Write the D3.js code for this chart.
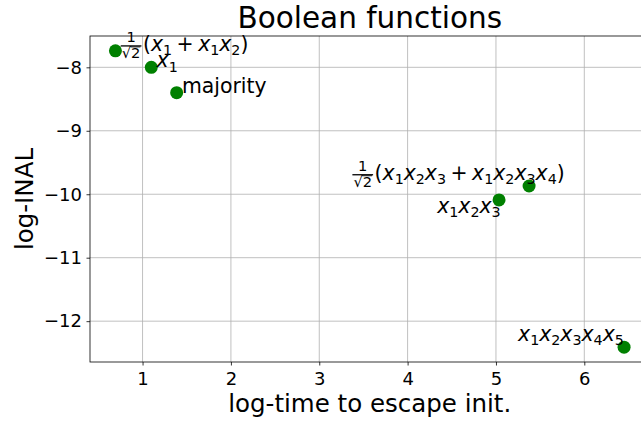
<!DOCTYPE html>
<html>
<head>
<meta charset="utf-8">
<script src="https://cdn.jsdelivr.net/npm/d3@7"></script>
<style>
  body { margin: 0; background: #fff; }
  svg { display: block; font-family: "DejaVu Sans", sans-serif; }
</style>
</head>
<body>
<svg id="chart" width="641" height="421"></svg>
<script>
// values
const logTime = [0.693, 1.099, 1.386, 5.375, 5.035, 6.45];
const logInal = [-7.74, -8.00, -8.40, -9.87, -10.09, -12.41];
const labels = [
    "$\\frac{1}{\\sqrt{2}}(x_1 + x_1x_2)$",
    "$x_1$",
    "majority",
    "$\\frac{1}{\\sqrt{2}}(x_1x_2x_3 + x_1x_2x_3x_4)$",
    "$x_1x_2x_3$",
    "$x_1x_2x_3x_4x_5$"
];
// where each annotation sits, in data units from its point
const labelShiftX = [0.06, 0.06, 0.06, -2.0, -0.7, -1.2];
const labelShiftY = [0, 0, 0, 0.1, -0.2, 0.1];
const xTicks = [1, 2, 3, 4, 5, 6];
const yTicks = [-12, -11, -10, -9, -8];

const svg = d3.select("#chart");
const plotL = 90, plotR = 649.5, plotT = 36, plotB = 362;
const fs = 20.4; // annotation font size

// matplotlib style 5% margins around the data
function padded(vals) {
    const lo = d3.min(vals), hi = d3.max(vals), m = (hi - lo) * 0.05;
    return [lo - m, hi + m];
}
const x = d3.scaleLinear().domain(padded(logTime)).range([plotL, plotR]);
const y = d3.scaleLinear().domain(padded(logInal)).range([plotB, plotT]);

// grid
svg.append("g").selectAll("line").data(xTicks).enter().append("line")
    .attr("x1", d => x(d)).attr("x2", d => x(d))
    .attr("y1", plotT).attr("y2", plotB)
    .style("stroke", "#b0b0b0").style("stroke-width", 0.8);
svg.append("g").selectAll("line").data(yTicks).enter().append("line")
    .attr("x1", plotL).attr("x2", plotR)
    .attr("y1", d => y(d)).attr("y2", d => y(d))
    .style("stroke", "#b0b0b0").style("stroke-width", 0.8);

// axes
const xAxis = svg.append("g")
    .attr("transform", "translate(0," + plotB + ")")
    .call(d3.axisBottom(x).tickValues(xTicks).tickSize(3.5).tickPadding(6.5).tickFormat(d3.format("d")));
const yAxis = svg.append("g")
    .attr("transform", "translate(" + plotL + ",0)")
    .call(d3.axisLeft(y).tickValues(yTicks).tickSize(3.5).tickPadding(4.5).tickFormat(d3.format("d")));
[xAxis, yAxis].forEach(a => {
    a.select(".domain").remove();
    a.selectAll("line").style("stroke", "#000").style("stroke-width", 0.8);
    a.selectAll("text").style("font-size", "18px").style("font-family", "DejaVu Sans").style("fill", "#000");
});

// frame
svg.append("rect")
    .attr("x", plotL).attr("y", plotT)
    .attr("width", plotR - plotL).attr("height", plotB - plotT)
    .style("fill", "none").style("stroke", "#000").style("stroke-width", 0.8);

// points
svg.append("g").selectAll("circle").data(logTime).enter().append("circle")
    .attr("cx", (d, i) => x(d))
    .attr("cy", (d, i) => y(logInal[i]))
    .attr("r", 6.5)
    .style("fill", "green");

// small mathtext renderer: 1/sqrt(2) prefix, italic letters, subscripts
function drawFrac(g, x0, y0) {
    const s = fs * 0.72;
    const den = g.append("text").attr("x", x0 + 1).attr("y", y0 + 0.37 * fs).style("font-size", s + "px");
    den.append("tspan").text("\u221a");
    const two = den.append("tspan").text("2");
    const rootW = den.node().getComputedTextLength();
    const twoW = two.node().getComputedTextLength();
    const w = rootW + 2;
    g.append("line")
        .attr("x1", x0 + 1 + rootW - twoW - 0.5).attr("x2", x0 + 1 + rootW)
        .attr("y1", y0 + 0.37 * fs - 0.78 * s).attr("y2", y0 + 0.37 * fs - 0.78 * s)
        .style("stroke", "#000").style("stroke-width", 0.9);
    g.append("line")
        .attr("x1", x0).attr("x2", x0 + w)
        .attr("y1", y0 - 0.24 * fs).attr("y2", y0 - 0.24 * fs)
        .style("stroke", "#000").style("stroke-width", 1.3);
    g.append("text").attr("x", x0 + w / 2).attr("y", y0 - 0.42 * fs)
        .attr("text-anchor", "middle").style("font-size", s + "px").text("1");
    return w + 1.5;
}

function drawLabel(g, str, x0, y0) {
    if (str[0] !== "$") {
        g.append("text").attr("x", x0).attr("y", y0).style("font-size", fs + "px").text(str);
        return;
    }
    let body = str.slice(1, -1);
    const fracTag = "\\frac{1}{\\sqrt{2}}";
    if (body.startsWith(fracTag)) {
        x0 += drawFrac(g, x0, y0);
        body = body.slice(fracTag.length);
    }
    const t = g.append("text").attr("x", x0).attr("y", y0).style("font-size", fs + "px");
    const drop = 0.22 * fs;
    let shift = 0;
    for (let i = 0; i < body.length; i++) {
        const c = body[i];
        if (c === " ") continue;
        if (c === "_") {
            t.append("tspan").attr("dy", drop - shift).style("font-size", (fs * 0.7) + "px").text(body[i + 1]);
            shift = drop;
            i++;
            continue;
        }
        const sp = t.append("tspan").attr("dy", -shift).text(c);
        shift = 0;
        if (/[a-z]/.test(c)) sp.style("font-style", "italic");
        if (c === "+") sp.attr("dx", 0.22 * fs);
        if (body[i - 1] === "+" || (body[i - 1] === " " && body[i - 2] === "+")) sp.attr("dx", 0.22 * fs);
    }
}

const ann = svg.append("g").style("fill", "#000");
labels.forEach((lab, i) => {
    drawLabel(ann, lab, x(logTime[i] + labelShiftX[i]), y(logInal[i] + labelShiftY[i]));
});

// titles
const cx = (plotL + plotR) / 2;
svg.append("text").attr("x", cx).attr("y", 28).attr("text-anchor", "middle")
    .style("font-size", "29.5px").text("Boolean functions");
svg.append("text").attr("x", cx).attr("y", 412).attr("text-anchor", "middle")
    .style("font-size", "24.5px").text("log-time to escape init.");
svg.append("text").attr("transform", "translate(33," + ((plotT + plotB) / 2) + ") rotate(-90)")
    .attr("text-anchor", "middle").style("font-size", "24.5px").text("log-INAL");
</script>
</body>
</html>
